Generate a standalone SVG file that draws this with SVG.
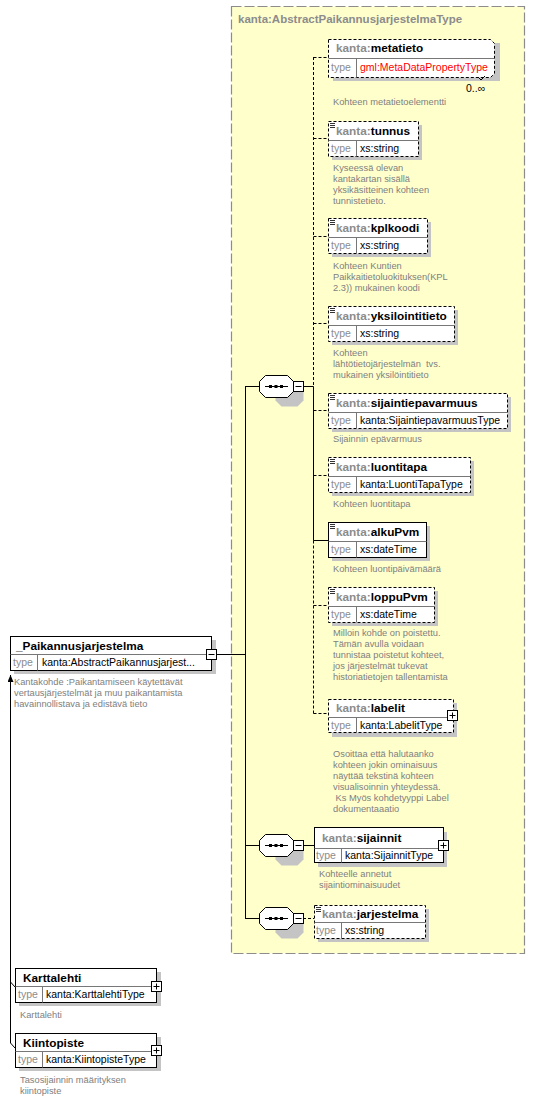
<svg xmlns="http://www.w3.org/2000/svg" width="535" height="1101" viewBox="0 0 535 1101">
<style>
text{font-family:"Liberation Sans",Arial,sans-serif}
.bg{fill:#ffffff}
.yel{fill:#ffffcc;stroke:#8c8c8c;stroke-width:1.2;stroke-dasharray:10 3}
.ytitle{font-size:11.5px;font-weight:bold;fill:#8c8c8c}
.sh{fill:#c4c4c4}
.box{fill:#fff;stroke:#000;stroke-width:1}
.dbox{fill:#fff;stroke:#000;stroke-width:1;stroke-dasharray:3 2}
.div{stroke:#777;stroke-width:1;fill:none}
.nm{font-size:11.8px;font-weight:bold;fill:#000}
.ns{fill:#8c8c8c}
.tl{font-size:10.5px;fill:#8c8c8c}
.tv{font-size:10.5px;fill:#000}
.red{fill:#ff0000}
.ds{font-size:9.3px;fill:#808080}
.ln{stroke:#000;stroke-width:1;fill:none}
.dl{stroke:#000;stroke-width:1;fill:none;stroke-dasharray:3 2}
.ic{stroke:#000;stroke-width:1;fill:#fff}
.doc{stroke:#000;stroke-width:0.8}
</style>
<defs>
<marker id="arr" markerWidth="8" markerHeight="8" refX="7" refY="3" orient="auto-start-reverse" markerUnits="userSpaceOnUse">
<path d="M0,0 L7,3 L0,6 Z" fill="#000"/>
</marker>
<g id="seq">
<path d="M18,5 L34,5 L40,11 L40,21 L34,27 L18,27 L12,21 L12,11 Z" transform="translate(4,4)" class="sh"/>
<path d="M6,0 L28,0 L34,6 L34,16 L28,22 L6,22 L0,16 L0,6 Z" class="box"/>
</g>
</defs>
<rect width="535" height="1101" class="bg"/>

<!-- complex type container -->
<g id="container">
<rect x="231.5" y="6.5" width="293" height="947" class="yel"/>
<text x="238" y="23" class="ytitle">kanta:AbstractPaikannusjarjestelmaType</text>
</g>

<!-- connectors -->
<g id="connectors">
<line x1="217" y1="654.5" x2="245.5" y2="654.5" class="ln"/>
<line x1="245.5" y1="386.5" x2="245.5" y2="918.5" class="ln"/>
<line x1="245" y1="386.5" x2="259" y2="386.5" class="ln"/>
<line x1="245" y1="845.5" x2="259" y2="845.5" class="ln"/>
<line x1="245" y1="918.5" x2="259" y2="918.5" class="ln"/>
<line x1="303" y1="386.5" x2="313.5" y2="386.5" class="ln"/>
<line x1="313.5" y1="57" x2="313.5" y2="386.5" class="dl"/>
<line x1="313.5" y1="386.5" x2="313.5" y2="540.5" class="ln"/>
<line x1="313.5" y1="540.5" x2="313.5" y2="714" class="dl"/>
<line x1="313.5" y1="57.5" x2="328" y2="57.5" class="dl"/>
<line x1="313.5" y1="138.5" x2="328" y2="138.5" class="dl"/>
<line x1="313.5" y1="236.5" x2="328" y2="236.5" class="dl"/>
<line x1="313.5" y1="323.5" x2="328" y2="323.5" class="dl"/>
<line x1="313.5" y1="410.5" x2="328" y2="410.5" class="dl"/>
<line x1="313.5" y1="475.5" x2="328" y2="475.5" class="dl"/>
<line x1="313.5" y1="540.5" x2="328" y2="540.5" class="ln"/>
<line x1="313.5" y1="605.5" x2="328" y2="605.5" class="dl"/>
<line x1="313.5" y1="713.5" x2="328" y2="713.5" class="dl"/>
<line x1="303" y1="845.5" x2="314" y2="845.5" class="ln"/>
<line x1="303" y1="918.5" x2="314" y2="918.5" class="dl"/>
<line x1="10.5" y1="675" x2="10.5" y2="1043" class="ln" marker-start="url(#arr)"/>
<polyline points="10.5,982 15,987" class="ln"/>
<polyline points="10.5,1043 15,1048" class="ln"/>
</g>

<!-- sequences -->
<g id="seq1">
<use href="#seq" x="259.5" y="375.5"/>
<line x1="265" y1="386.5" x2="288" y2="386.5" class="ln"/>
<rect x="269" y="385" width="3" height="3" fill="#000"/>
<rect x="274.5" y="385" width="3" height="3" fill="#000"/>
<rect x="280" y="385" width="3" height="3" fill="#000"/>
<rect x="293.5" y="381.5" width="10" height="10" class="ic"/>
<line x1="295.5" y1="386.5" x2="301.5" y2="386.5" class="ln"/>
</g>
<g id="seq2">
<use href="#seq" x="259.5" y="834.5"/>
<line x1="265" y1="845.5" x2="288" y2="845.5" class="ln"/>
<rect x="269" y="844" width="3" height="3" fill="#000"/>
<rect x="274.5" y="844" width="3" height="3" fill="#000"/>
<rect x="280" y="844" width="3" height="3" fill="#000"/>
<rect x="293.5" y="840.5" width="10" height="10" class="ic"/>
<line x1="295.5" y1="845.5" x2="301.5" y2="845.5" class="ln"/>
</g>
<g id="seq3">
<use href="#seq" x="259.5" y="907.5"/>
<line x1="265" y1="918.5" x2="288" y2="918.5" class="ln"/>
<rect x="269" y="917" width="3" height="3" fill="#000"/>
<rect x="274.5" y="917" width="3" height="3" fill="#000"/>
<rect x="280" y="917" width="3" height="3" fill="#000"/>
<rect x="293.5" y="913.5" width="10" height="10" class="ic"/>
<line x1="295.5" y1="918.5" x2="301.5" y2="918.5" class="ln"/>
</g>

<!-- root -->
<g id="root">
<rect x="14" y="640" width="202" height="34" class="sh"/>
<rect x="10.5" y="636.5" width="201" height="34" class="box"/>
<line x1="10.5" y1="654.5" x2="211.5" y2="654.5" class="div"/>
<line x1="37.5" y1="654.5" x2="37.5" y2="670.5" class="div"/>
<text x="16" y="650" class="nm">_Paikannusjarjestelma</text>
<text x="13" y="666" class="tl">type</text>
<text x="42" y="666" class="tv">kanta:AbstractPaikannusjarjest...</text>
<rect x="206.5" y="649.5" width="10" height="10" class="ic"/>
<line x1="208.5" y1="654.5" x2="214.5" y2="654.5" class="ln"/>
<text class="ds"><tspan x="14" y="685">Kantakohde :Paikantamiseen käytettävät</tspan><tspan x="14" y="696">vertausjärjestelmät ja muu paikantamista</tspan><tspan x="14" y="707">havainnollistava ja edistävä tieto</tspan></text>
</g>

<!-- metatieto -->
<g id="metatieto">
<rect x="333" y="43" width="167" height="38" class="sh"/>
<path d="M328.5,39.5 L490.5,39.5 L494.5,43.5 L494.5,73.5 L490.5,77.5 L328.5,77.5 Z" class="dbox"/>
<line x1="328.5" y1="58.5" x2="494.5" y2="58.5" class="div"/>
<line x1="356.5" y1="58.5" x2="356.5" y2="77.5" class="div"/>
<text x="336" y="52" class="nm"><tspan class="ns">kanta:</tspan>metatieto</text>
<text x="331" y="71" class="tl">type</text>
<text x="360" y="71" class="tv red">gml:MetaDataPropertyType</text>
<polyline points="478,77 481,80 485,76" class="ln"/>
<text x="466" y="92" class="tv">0..∞</text>
<text x="333" y="105" class="ds">Kohteen metatietoelementti</text>
</g>

<!-- tunnus -->
<g id="tunnus">
<rect x="332" y="125" width="90" height="35" class="sh"/>
<rect x="328.5" y="121.5" width="90" height="35" class="dbox"/>
<line x1="328.5" y1="140.5" x2="418.5" y2="140.5" class="div"/>
<line x1="356.5" y1="140.5" x2="356.5" y2="156.5" class="div"/>
<path d="M330,123.5 h5 M330,125.5 h5 M330,127.5 h5" class="doc"/>
<text x="336" y="135" class="nm"><tspan class="ns">kanta:</tspan>tunnus</text>
<text x="331" y="152" class="tl">type</text>
<text x="360" y="152" class="tv">xs:string</text>
<text class="ds"><tspan x="333" y="171">Kyseessä olevan</tspan><tspan x="333" y="182">kantakartan sisällä</tspan><tspan x="333" y="193">yksikäsitteinen kohteen</tspan><tspan x="333" y="204">tunnistetieto.</tspan></text>
</g>

<!-- kplkoodi -->
<g id="kplkoodi">
<rect x="332" y="222" width="99" height="35" class="sh"/>
<rect x="328.5" y="218.5" width="99" height="35" class="dbox"/>
<line x1="328.5" y1="237.5" x2="427.5" y2="237.5" class="div"/>
<line x1="356.5" y1="237.5" x2="356.5" y2="253.5" class="div"/>
<path d="M330,220.5 h5 M330,222.5 h5 M330,224.5 h5" class="doc"/>
<text x="336" y="232" class="nm"><tspan class="ns">kanta:</tspan>kplkoodi</text>
<text x="331" y="249" class="tl">type</text>
<text x="360" y="249" class="tv">xs:string</text>
<text class="ds"><tspan x="333" y="269">Kohteen Kuntien</tspan><tspan x="333" y="280">Paikkaitietoluokituksen(KPL</tspan><tspan x="333" y="291">2.3)) mukainen koodi</tspan></text>
</g>

<!-- yksilointitieto -->
<g id="yksilointitieto">
<rect x="332" y="310" width="126" height="35" class="sh"/>
<rect x="328.5" y="306.5" width="126" height="35" class="dbox"/>
<line x1="328.5" y1="325.5" x2="454.5" y2="325.5" class="div"/>
<line x1="356.5" y1="325.5" x2="356.5" y2="341.5" class="div"/>
<path d="M330,308.5 h5 M330,310.5 h5 M330,312.5 h5" class="doc"/>
<text x="336" y="320" class="nm"><tspan class="ns">kanta:</tspan>yksilointitieto</text>
<text x="331" y="337" class="tl">type</text>
<text x="360" y="337" class="tv">xs:string</text>
<text class="ds"><tspan x="333" y="356">Kohteen</tspan><tspan x="333" y="367">lähtötietojärjestelmän&#160; tvs.</tspan><tspan x="333" y="378">mukainen yksilöintitieto</tspan></text>
</g>

<!-- sijaintiepavarmuus -->
<g id="sijaintiepavarmuus">
<rect x="332" y="397" width="179" height="35" class="sh"/>
<rect x="328.5" y="393.5" width="179" height="35" class="dbox"/>
<line x1="328.5" y1="412.5" x2="507.5" y2="412.5" class="div"/>
<line x1="356.5" y1="412.5" x2="356.5" y2="428.5" class="div"/>
<path d="M330,395.5 h5 M330,397.5 h5 M330,399.5 h5" class="doc"/>
<text x="336" y="407" class="nm"><tspan class="ns">kanta:</tspan>sijaintiepavarmuus</text>
<text x="331" y="424" class="tl">type</text>
<text x="360" y="424" class="tv">kanta:SijaintiepavarmuusType</text>
<text x="333" y="442" class="ds">Sijainnin epävarmuus</text>
</g>

<!-- luontitapa -->
<g id="luontitapa">
<rect x="332" y="461" width="142" height="35" class="sh"/>
<rect x="328.5" y="457.5" width="142" height="35" class="dbox"/>
<line x1="328.5" y1="476.5" x2="470.5" y2="476.5" class="div"/>
<line x1="356.5" y1="476.5" x2="356.5" y2="492.5" class="div"/>
<path d="M330,459.5 h5 M330,461.5 h5 M330,463.5 h5" class="doc"/>
<text x="336" y="471" class="nm"><tspan class="ns">kanta:</tspan>luontitapa</text>
<text x="331" y="488" class="tl">type</text>
<text x="360" y="488" class="tv">kanta:LuontiTapaType</text>
<text x="333" y="507" class="ds">Kohteen luontitapa</text>
</g>

<!-- alkuPvm -->
<g id="alkuPvm">
<rect x="332" y="526" width="98" height="35" class="sh"/>
<rect x="328.5" y="522.5" width="98" height="35" class="box"/>
<line x1="328.5" y1="541.5" x2="426.5" y2="541.5" class="div"/>
<line x1="356.5" y1="541.5" x2="356.5" y2="557.5" class="div"/>
<path d="M330,524.5 h5 M330,526.5 h5 M330,528.5 h5" class="doc"/>
<text x="336" y="536" class="nm"><tspan class="ns">kanta:</tspan>alkuPvm</text>
<text x="331" y="553" class="tl">type</text>
<text x="360" y="553" class="tv">xs:dateTime</text>
<text x="333" y="572" class="ds">Kohteen luontipäivämäärä</text>
</g>

<!-- loppuPvm -->
<g id="loppuPvm">
<rect x="332" y="591" width="106" height="35" class="sh"/>
<rect x="328.5" y="587.5" width="106" height="35" class="dbox"/>
<line x1="328.5" y1="606.5" x2="434.5" y2="606.5" class="div"/>
<line x1="356.5" y1="606.5" x2="356.5" y2="622.5" class="div"/>
<path d="M330,589.5 h5 M330,591.5 h5 M330,593.5 h5" class="doc"/>
<text x="336" y="601" class="nm"><tspan class="ns">kanta:</tspan>loppuPvm</text>
<text x="331" y="618" class="tl">type</text>
<text x="360" y="618" class="tv">xs:dateTime</text>
<text class="ds"><tspan x="333" y="636">Milloin kohde on poistettu.</tspan><tspan x="333" y="647">Tämän avulla voidaan</tspan><tspan x="333" y="658">tunnistaa poistetut kohteet,</tspan><tspan x="333" y="669">jos järjestelmät tukevat</tspan><tspan x="333" y="680">historiatietojen tallentamista</tspan></text>
</g>

<!-- labelit -->
<g id="labelit">
<rect x="332" y="703" width="125" height="34" class="sh"/>
<rect x="328.5" y="699.5" width="125" height="33" class="dbox"/>
<line x1="328.5" y1="717.5" x2="453.5" y2="717.5" class="div"/>
<line x1="356.5" y1="717.5" x2="356.5" y2="732.5" class="div"/>
<text x="336" y="712" class="nm"><tspan class="ns">kanta:</tspan>labelit</text>
<text x="331" y="729" class="tl">type</text>
<text x="360" y="729" class="tv">kanta:LabelitType</text>
<rect x="447.5" y="710.5" width="10" height="10" class="ic"/>
<path d="M449.5,715.5 h6 M452.5,712.5 v6" class="ln"/>
<text class="ds"><tspan x="333" y="757">Osoittaa että halutaanko</tspan><tspan x="333" y="768">kohteen jokin ominaisuus</tspan><tspan x="333" y="779">näyttää tekstinä kohteen</tspan><tspan x="333" y="790">visualisoinnin yhteydessä.</tspan><tspan x="333" y="801">&#160;Ks Myös kohdetyyppi Label</tspan><tspan x="333" y="812">dokumentaaatio</tspan></text>
</g>

<!-- sijainnit -->
<g id="sijainnit">
<rect x="318" y="832" width="129" height="35" class="sh"/>
<rect x="314.5" y="827.5" width="129" height="35" class="box"/>
<line x1="314.5" y1="848.5" x2="443.5" y2="848.5" class="div"/>
<line x1="341.5" y1="848.5" x2="341.5" y2="862.5" class="div"/>
<text x="322" y="842" class="nm"><tspan class="ns">kanta:</tspan>sijainnit</text>
<text x="316" y="859" class="tl">type</text>
<text x="345" y="859" class="tv">kanta:SijainnitType</text>
<rect x="438.5" y="840.5" width="10" height="10" class="ic"/>
<path d="M440.5,845.5 h6 M443.5,842.5 v6" class="ln"/>
<text class="ds"><tspan x="319" y="877">Kohteelle annetut</tspan><tspan x="319" y="888">sijaintiominaisuudet</tspan></text>
</g>

<!-- jarjestelma -->
<g id="jarjestelma">
<rect x="318" y="909" width="111" height="33" class="sh"/>
<rect x="314.5" y="905.5" width="111" height="33" class="dbox"/>
<line x1="314.5" y1="922.5" x2="425.5" y2="922.5" class="div"/>
<line x1="341.5" y1="922.5" x2="341.5" y2="938.5" class="div"/>
<path d="M316,907.5 h5 M316,909.5 h5 M316,911.5 h5" class="doc"/>
<text x="322" y="918" class="nm"><tspan class="ns">kanta:</tspan>jarjestelma</text>
<text x="316" y="934" class="tl">type</text>
<text x="345" y="934" class="tv">xs:string</text>
</g>

<!-- Karttalehti -->
<g id="Karttalehti">
<rect x="19" y="972" width="142" height="34" class="sh"/>
<rect x="15.5" y="968.5" width="141" height="34" class="box"/>
<line x1="15.5" y1="986.5" x2="156.5" y2="986.5" class="div"/>
<line x1="42.5" y1="986.5" x2="42.5" y2="1002.5" class="div"/>
<text x="23" y="982" class="nm">Karttalehti</text>
<text x="18" y="998" class="tl">type</text>
<text x="46" y="998" class="tv">kanta:KarttalehtiType</text>
<rect x="151.5" y="981.5" width="10" height="10" class="ic"/>
<path d="M153.5,986.5 h6 M156.5,983.5 v6" class="ln"/>
<text x="20" y="1018" class="ds">Karttalehti</text>
</g>

<!-- Kiintopiste -->
<g id="Kiintopiste">
<rect x="19" y="1037" width="142" height="34" class="sh"/>
<rect x="15.5" y="1033.5" width="141" height="34" class="box"/>
<line x1="15.5" y1="1051.5" x2="156.5" y2="1051.5" class="div"/>
<line x1="42.5" y1="1051.5" x2="42.5" y2="1067.5" class="div"/>
<text x="23" y="1047" class="nm">Kiintopiste</text>
<text x="18" y="1063" class="tl">type</text>
<text x="46" y="1063" class="tv">kanta:KiintopisteType</text>
<rect x="151.5" y="1045.5" width="10" height="10" class="ic"/>
<path d="M153.5,1050.5 h6 M156.5,1047.5 v6" class="ln"/>
<text class="ds"><tspan x="20" y="1083">Tasosijainnin määrityksen</tspan><tspan x="20" y="1094">kiintopiste</tspan></text>
</g>
</svg>
